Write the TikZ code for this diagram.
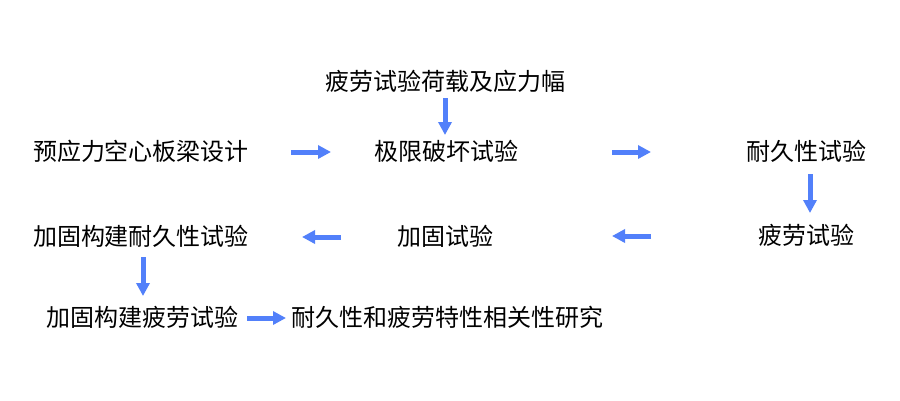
\documentclass[tikz,border=0pt]{standalone}
\usepackage{fontspec}
\setmainfont{Noto Sans CJK SC}
\usetikzlibrary{arrows.meta}
\definecolor{arrblue}{RGB}{82,128,250}
\tikzset{
  lbl/.style={inner sep=0pt, text height=0.88em, text depth=0.12em, yshift=-5pt, font=\fontsize{24}{28}\selectfont, text=black},
  flow/.style={draw=arrblue, line width=5pt, -{Triangle[length=13pt,width=13pt]}, arrblue}
}
\begin{document}
\begin{tikzpicture}[x=1pt,y=-1pt]
\useasboundingbox (0,0) rectangle (900,400);
\fill[white] (0,0) rectangle (900,400);
\node[lbl] (load) at (445,82) {疲劳试验荷载及应力幅};
\node[lbl] (design) at (141,152) {预应力空心板梁设计};
\node[lbl] (ult) at (446,152) {极限破坏试验};
\node[lbl] (dur) at (806,152) {耐久性试验};
\node[lbl] (fat) at (806,236) {疲劳试验};
\node[lbl] (reinf) at (445,237) {加固试验};
\node[lbl] (rdur) at (141,237) {加固构建耐久性试验};
\node[lbl] (rfat) at (142,318) {加固构建疲劳试验};
\node[lbl] (corr) at (447,318) {耐久性和疲劳特性相关性研究};
% arrow end points
\coordinate (p1s) at (445,98);  \coordinate (p1e) at (445,135);
\coordinate (p2s) at (291,152); \coordinate (p2e) at (331,152);
\coordinate (p3s) at (612,152); \coordinate (p3e) at (651,152);
\coordinate (p4s) at (810,174); \coordinate (p4e) at (810,213);
\coordinate (p5s) at (651,236); \coordinate (p5e) at (612,236);
\coordinate (p6s) at (341,237); \coordinate (p6e) at (302,237);
\coordinate (p7s) at (143,257); \coordinate (p7e) at (143,296);
\coordinate (p8s) at (247,318); \coordinate (p8e) at (286,318);
\draw[flow] (p1s) -- (p1e);
\draw[flow] (p2s) -- (p2e);
\draw[flow] (p3s) -- (p3e);
\draw[flow] (p4s) -- (p4e);
\draw[flow] (p5s) -- (p5e);
\draw[flow] (p6s) -- (p6e);
\draw[flow] (p7s) -- (p7e);
\draw[flow] (p8s) -- (p8e);
\end{tikzpicture}
\end{document}
